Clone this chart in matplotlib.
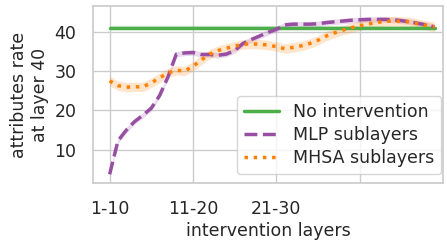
import numpy as np
import matplotlib
matplotlib.use("Agg")
import matplotlib.pyplot as plt
import seaborn as sns

# ---- data -----------------------------------------------------
tick_labels = ["1-10", "11-20", "21-30", ""]

no_intervention = 40.9
no_intervention_err = 0.6

mlp = [3.8, 12.3, 15.0, 17.2, 18.8, 20.6, 23.8, 28.5, 34.3, 34.6,
       34.7, 34.2, 34.2, 34.0, 34.3, 35.2, 37.0, 38.0, 38.9, 39.8,
       40.6, 41.7, 41.9, 41.9, 41.9, 42.0, 42.3, 42.5, 42.7, 42.9,
       43.0, 43.1, 43.1, 43.1, 43.0, 42.8, 42.5, 42.1, 41.7, 41.2]
mlp_err = 0.7

mhsa = [27.5, 26.3, 25.9, 26.0, 26.0, 27.0, 28.3, 29.5, 30.2, 30.0,
        31.2, 32.8, 34.3, 35.2, 35.8, 36.3, 36.8, 36.9, 36.8, 36.6,
        36.2, 35.7, 36.0, 36.4, 37.0, 37.8, 38.9, 39.7, 40.4, 41.0,
        41.5, 41.9, 42.3, 42.6, 42.7, 42.6, 42.5, 42.0, 41.6, 41.2]
mhsa_err = 1.2

sns.set_theme(style="whitegrid")
plt.rcParams['font.family'] = ['DejaVu Sans']

green, purple, orange = "#4daf4a", "#984ea3", "#ff7f00"

x = np.arange(len(mlp))
mlp = np.array(mlp)
mhsa = np.array(mhsa)
base = np.full(len(x), no_intervention)

fig = plt.figure(figsize=(4.47, 2.42), dpi=100)
ax = fig.add_axes([0.208, 0.244, 0.783, 0.731])

ax.fill_between(x, base - no_intervention_err, base + no_intervention_err,
                color=green, alpha=0.2, lw=0)
ax.plot(x, base, color=green, lw=2.5, label="No intervention")

ax.fill_between(x, mlp - mlp_err, mlp + mlp_err, color=purple, alpha=0.2, lw=0)
ax.plot(x, mlp, color=purple, lw=2.5, ls="--", label="MLP sublayers")

ax.fill_between(x, mhsa - mhsa_err, mhsa + mhsa_err, color=orange, alpha=0.2, lw=0)
ax.plot(x, mhsa, color=orange, lw=2.5, ls=":", label="MHSA sublayers")

ax.set_xlim(-2, 40)
ax.set_ylim(1.6, 46.5)
ax.set_xticks([0, 10, 20, 30])
ax.set_xticklabels(tick_labels)
ax.set_yticks([10, 20, 30, 40])
ax.tick_params(axis="both", labelsize=12.5, pad=12, length=0)

ax.set_xlabel("intervention layers", fontsize=12.5, labelpad=3)
ax.set_ylabel("attributes rate\nat layer 40", fontsize=12.5, labelpad=4)

ax.legend(loc="lower right", bbox_to_anchor=(1.0, 0.04), fontsize=12.5,
          borderaxespad=0.1, handlelength=2.0, labelspacing=0.3)

fig.savefig("out.png", dpi=100)
